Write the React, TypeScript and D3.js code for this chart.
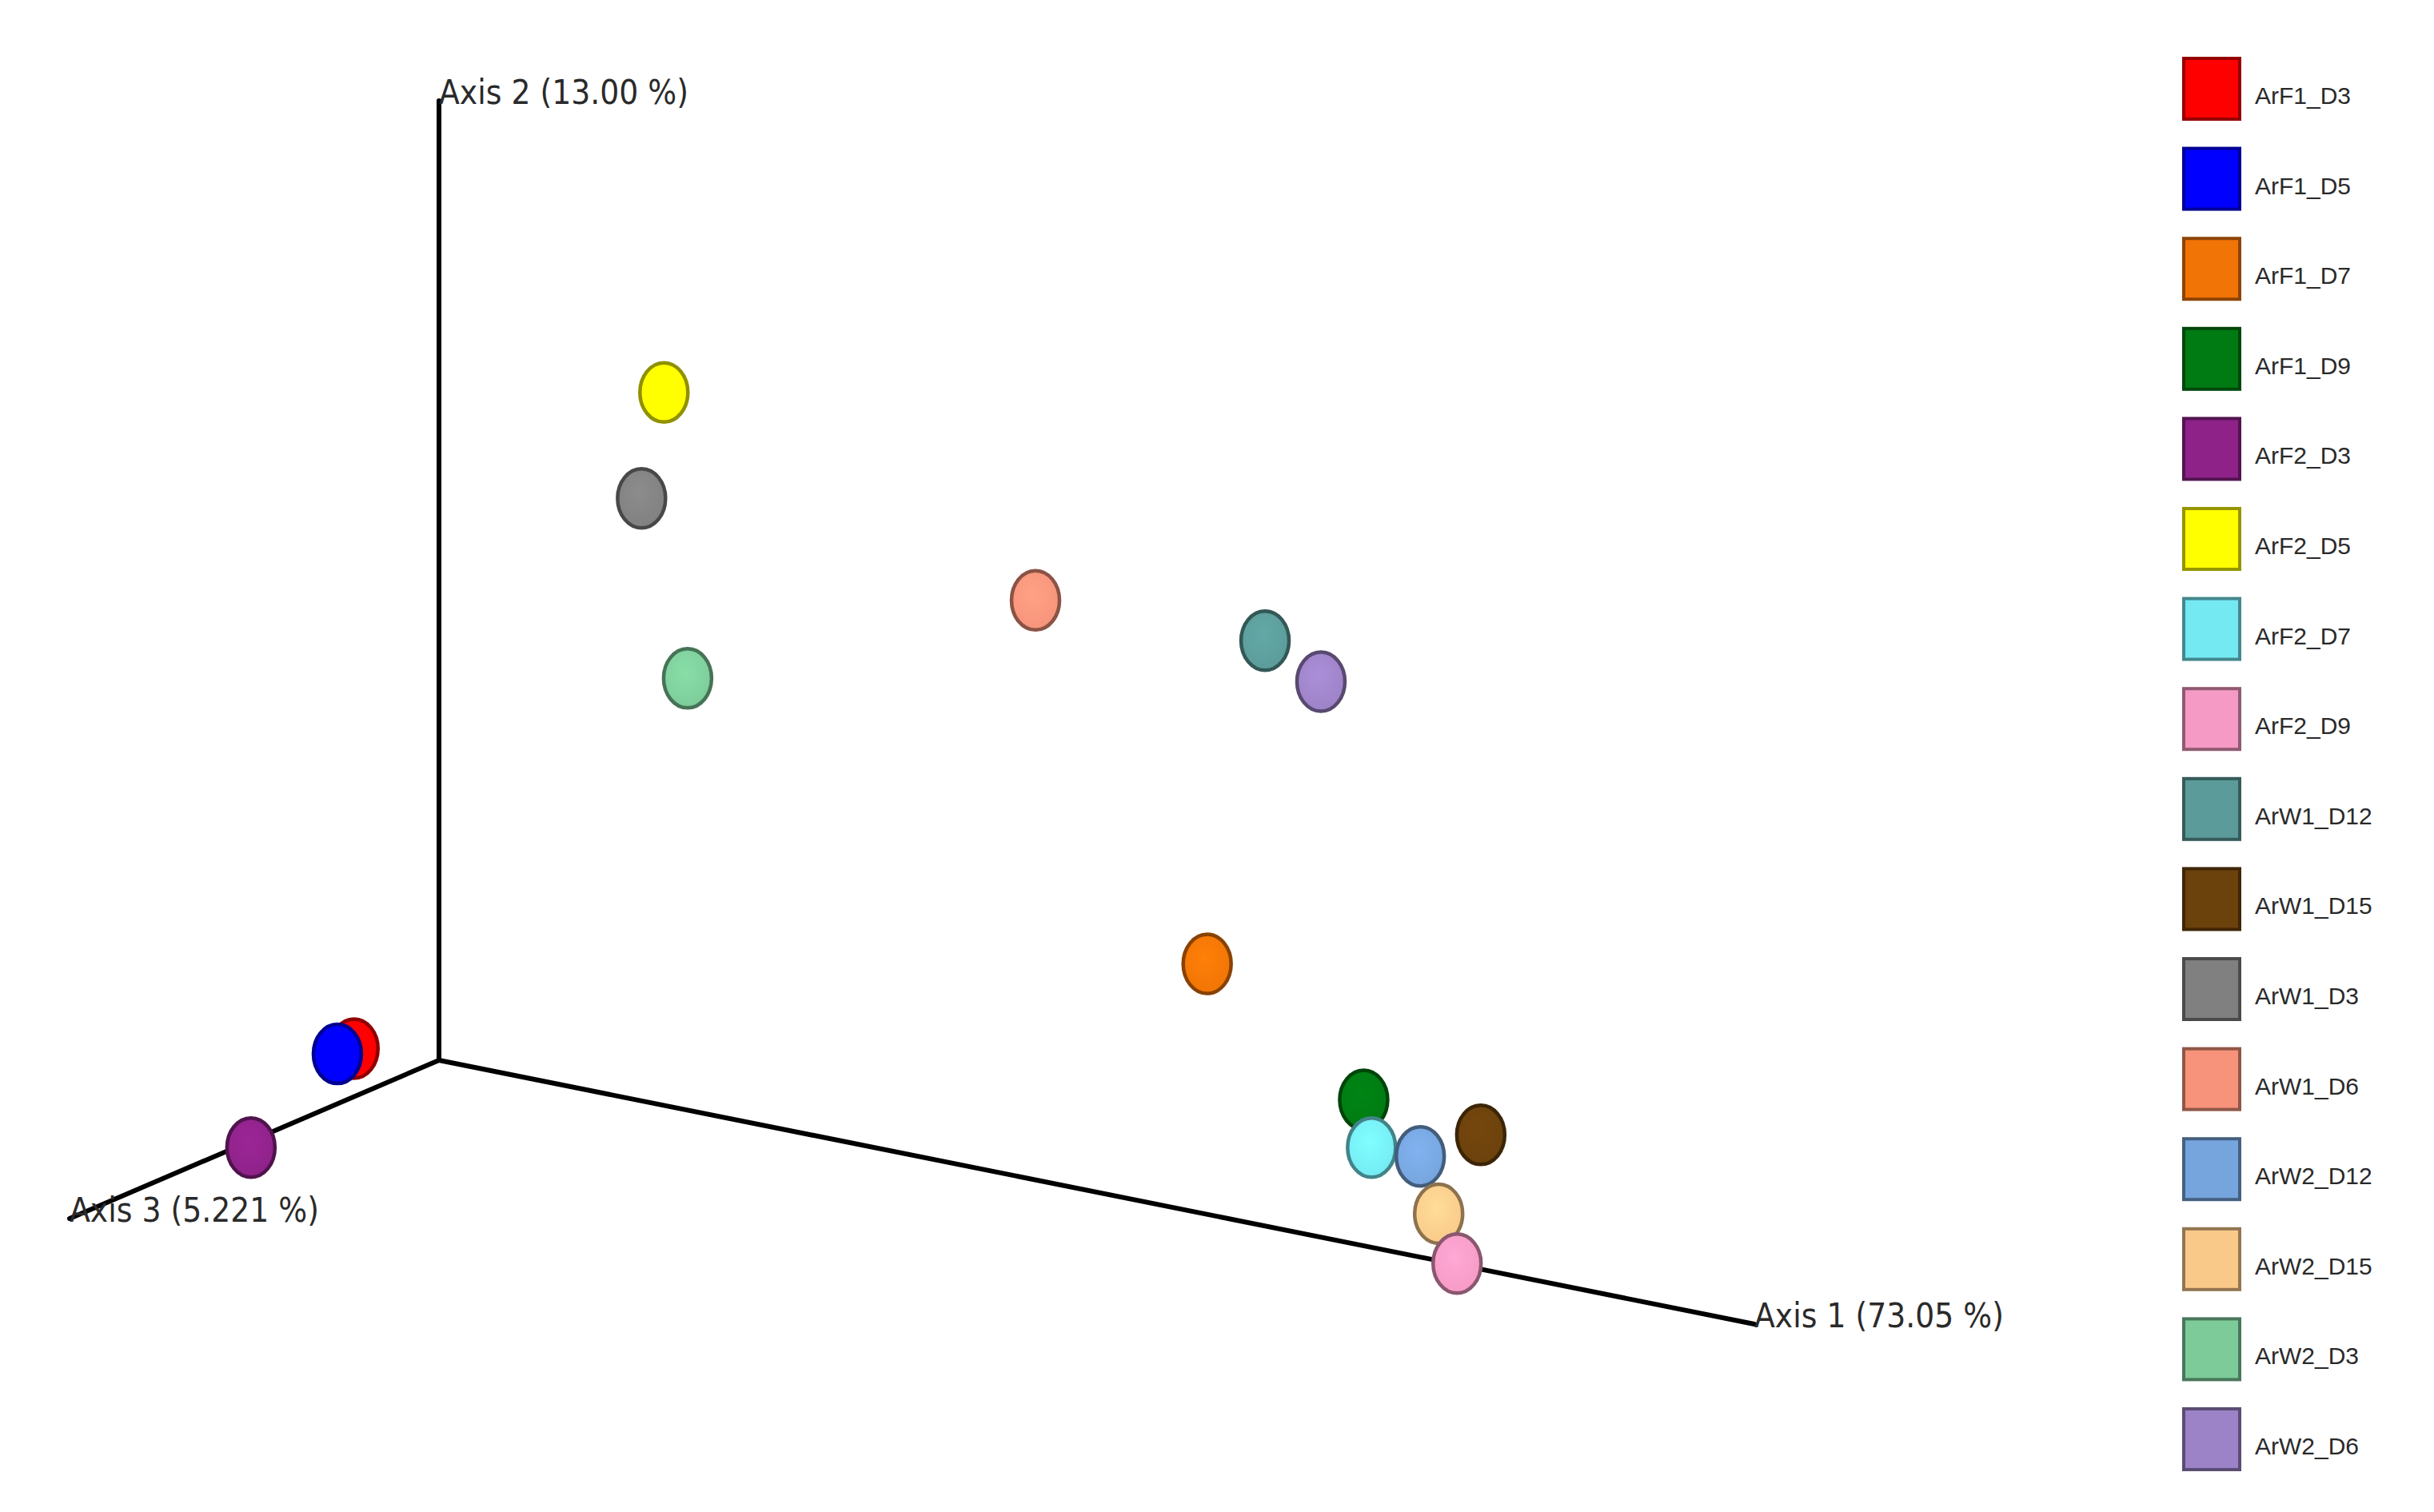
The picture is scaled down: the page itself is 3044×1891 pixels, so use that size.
import React from "react";
import * as d3 from "d3";

// Sample names (legend order)
const samples = [
  "ArF1_D3", "ArF1_D5", "ArF1_D7", "ArF1_D9",
  "ArF2_D3", "ArF2_D5", "ArF2_D7", "ArF2_D9",
  "ArW1_D12", "ArW1_D15", "ArW1_D3", "ArW1_D6",
  "ArW2_D12", "ArW2_D15", "ArW2_D3", "ArW2_D6",
];
const sampleColors = [
  "#ff0000", "#0000ff", "#f07406", "#007a12",
  "#8e2289", "#ffff00", "#74e9f2", "#f59ac4",
  "#5b9b99", "#6b410c", "#808080", "#f6937a",
  "#76a4dc", "#f9c98a", "#7ccb99", "#9c82c6",
];
// Coordinates as fractions of the drawn extent of each axis
const axis1Values = [0.0, 0.0, 0.584, 0.703, 0.0, 0.171, 0.709, 0.774, 0.628, 0.792, 0.154, 0.4535, 0.746, 0.76, 0.189, 0.6705];
const axis2Values = [0.05, 0.052, 0.261, 0.152, -0.007, 0.743, 0.104, 0.001, 0.61, 0.14, 0.628, 0.604, 0.105, 0.049, 0.45, 0.579];
const axis3Values = [0.23, 0.275, 0, 0, 0.509, 0, 0, 0, 0, 0, 0, 0, 0, 0, 0, 0];
// Drawing order (back to front)
const drawOrder = [0, 1, 4, 5, 10, 14, 11, 8, 15, 2, 3, 6, 12, 9, 13, 7];

const axisLabels = ["Axis 1 (73.05 %)", "Axis 2 (13.00 %)", "Axis 3 (5.221 %)"];

const W = 3044;
const H = 1891;
const origin = { x: 549, y: 1326 };
const end1 = { x: 2194, y: 1656 };
const end2 = { x: 549, y: 126 };
const end3 = { x: 87, y: 1524 };

const a1x = d3.scaleLinear().domain([0, 1]).range([0, end1.x - origin.x]);
const a1y = d3.scaleLinear().domain([0, 1]).range([0, end1.y - origin.y]);
const a2x = d3.scaleLinear().domain([0, 1]).range([0, end2.x - origin.x]);
const a2y = d3.scaleLinear().domain([0, 1]).range([0, end2.y - origin.y]);
const a3x = d3.scaleLinear().domain([0, 1]).range([0, end3.x - origin.x]);
const a3y = d3.scaleLinear().domain([0, 1]).range([0, end3.y - origin.y]);

function project(i: number) {
  return {
    x: origin.x + a1x(axis1Values[i]) + a2x(axis2Values[i]) + a3x(axis3Values[i]),
    y: origin.y + a1y(axis1Values[i]) + a2y(axis2Values[i]) + a3y(axis3Values[i]),
  };
}

const legendY = d3.scaleBand<string>().domain(samples).range([55, 55 + 112.6 * 16]).paddingInner(0);

export default function App() {
  const line = d3.line<{ x: number; y: number }>().x((d) => d.x).y((d) => d.y);
  const ends = [end1, end2, end3];
  return (
    <svg width={W} height={H} style={{ position: "absolute", left: 0, top: 0, background: "#fff" }}>
      <defs>
        {samples.map((s, i) => (
          <radialGradient key={s} id={`g${i}`} cx="45%" cy="40%" r="65%">
            <stop offset="0%" stopColor={d3.color(sampleColors[i])!.brighter(0.25).formatHex()} />
            <stop offset="100%" stopColor={sampleColors[i]} />
          </radialGradient>
        ))}
      </defs>
      {ends.map((e, k) => (
        <path key={k} d={line([origin, e])!} stroke="#000" strokeWidth={6} fill="none" strokeLinecap="round" />
      ))}
      {ends.map((e, k) => (
        <text
          key={`t${k}`}
          x={e.x}
          y={e.y + 4}
          fontFamily="'DejaVu Sans Condensed', 'DejaVu Sans', sans-serif"
          fontStretch="condensed"
          fontSize={42}
          fill="#2a2a2a"
        >
          {axisLabels[k]}
        </text>
      ))}
      {drawOrder.map((i) => {
        const p = project(i);
        return (
          <ellipse
            key={samples[i]}
            cx={p.x}
            cy={p.y}
            rx={30}
            ry={37}
            fill={`url(#g${i})`}
            stroke={d3.color(sampleColors[i])!.darker(1.6).formatHex()}
            strokeWidth={4.5}
          />
        );
      })}
      {samples.map((s, i) => {
        const y = legendY(s)!;
        return (
          <g key={`l${s}`}>
            <rect
              x={2731}
              y={y + 18}
              width={70}
              height={76}
              fill={sampleColors[i]}
              stroke={d3.color(sampleColors[i])!.darker(1.5).formatHex()}
              strokeWidth={4}
            />
            <text x={2820} y={y + 75} fontFamily="'Liberation Sans', Arial, sans-serif" fontSize={30} fill="#2a2a2a">
              {s}
            </text>
          </g>
        );
      })}
    </svg>
  );
}
